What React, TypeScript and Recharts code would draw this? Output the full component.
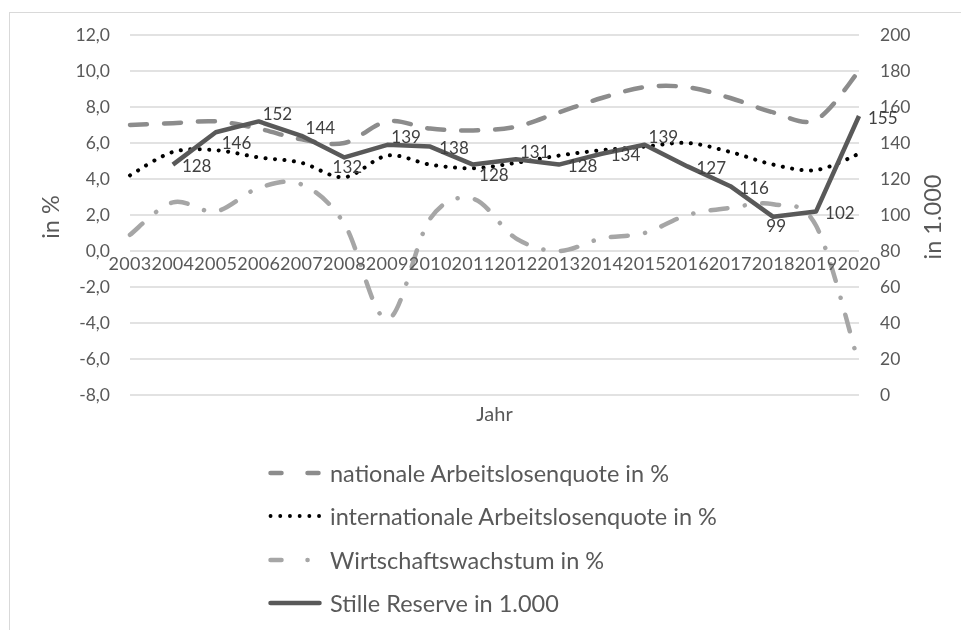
import React from 'react';
import { LineChart, Line, XAxis, YAxis, CartesianGrid, Legend, LabelList } from 'recharts';

const years = ['2003', '2004', '2005', '2006', '2007', '2008', '2009', '2010', '2011', '2012', '2013', '2014', '2015', '2016', '2017', '2018', '2019', '2020'];
const nationalRate = [7.0, 7.1, 7.2, 6.8, 6.2, 6.0, 7.2, 6.8, 6.7, 6.9, 7.7, 8.5, 9.1, 9.1, 8.5, 7.7, 7.3, 10.0];
const internationalRate = [4.2, 5.5, 5.6, 5.2, 4.9, 4.1, 5.3, 4.8, 4.6, 4.9, 5.3, 5.6, 5.8, 6.0, 5.5, 4.8, 4.5, 5.4];
const growthRate = [0.9, 2.7, 2.2, 3.5, 3.7, 1.5, -3.8, 1.8, 2.9, 0.7, 0.0, 0.7, 1.0, 2.0, 2.4, 2.6, 1.4, -6.3];
const silentReserve = [null, 128, 146, 152, 144, 132, 139, 138, 128, 131, 128, 134, 139, 127, 116, 99, 102, 155];
const leftTicks = [-8, -6, -4, -2, 0, 2, 4, 6, 8, 10, 12];
const rightTicks = [0, 20, 40, 60, 80, 100, 120, 140, 160, 180, 200];

const data = years.map((year, i) => ({
  year,
  national: nationalRate[i],
  international: internationalRate[i],
  growth: growthRate[i],
  reserve: silentReserve[i],
}));

const FONT = 'Lato, "Open Sans", sans-serif';
const TEXT = '#595959';
const CHART_W = 945;
const CHART_H = 612;
const PLOT_TOP = 27;
const PLOT_H = 360;
const LEFT_MIN = -8;
const LEFT_MAX = 12;
const zeroY = PLOT_TOP + (PLOT_H * (LEFT_MAX - 0)) / (LEFT_MAX - LEFT_MIN);

// Label placement style per year (Excel data label nudges)
const labelPlacement: Record<string, string> = {
  '2005': 'belowRight',
  '2011': 'belowRight',
  '2006': 'aboveRight',
  '2007': 'aboveRight',
  '2009': 'aboveRight',
  '2012': 'aboveRight',
  '2015': 'aboveRight',
  '2008': 'below',
  '2018': 'below',
};

// Excel-like smoothed line (Catmull-Rom bezier)
const excelSmooth = (context: any) => {
  let pts: number[][] = [];
  return {
    areaStart() {},
    areaEnd() {},
    lineStart() {
      pts = [];
    },
    point(x: number, y: number) {
      pts.push([+x, +y]);
    },
    lineEnd() {
      const n = pts.length;
      if (!n) return;
      context.moveTo(pts[0][0], pts[0][1]);
      for (let i = 0; i < n - 1; i++) {
        const p0 = pts[i - 1] || pts[i];
        const p1 = pts[i];
        const p2 = pts[i + 1];
        const p3 = pts[i + 2] || p2;
        context.bezierCurveTo(
          p1[0] + (p2[0] - p0[0]) / 6,
          p1[1] + (p2[1] - p0[1]) / 6,
          p2[0] - (p3[0] - p1[0]) / 6,
          p2[1] - (p3[1] - p1[1]) / 6,
          p2[0],
          p2[1]
        );
      }
    },
  };
};

const legendItems = [
  { label: 'nationale Arbeitslosenquote in %', color: '#8c8c8c', dash: '11 26', width: 4.5 },
  { label: 'internationale Arbeitslosenquote in %', color: '#000000', dash: '0.1 9.6', width: 3.8 },
  { label: 'Wirtschaftswachstum in %', color: '#a6a6a6', dash: '11 26 0.1 60', width: 4.5 },
  { label: 'Stille Reserve in 1.000', color: '#595959', dash: undefined, width: 4.5 },
];

const LegendContent = () => (
  <div style={{ fontFamily: FONT, fontSize: 23.5, color: TEXT }}>
    {legendItems.map((it) => (
      <div key={it.label} style={{ height: 43.5, display: 'flex', alignItems: 'center', whiteSpace: 'nowrap' }}>
        <svg width={62} height={10} style={{ flex: 'none' }}>
          <line
            x1={2.5}
            x2={51.5}
            y1={5}
            y2={5}
            stroke={it.color}
            strokeWidth={it.width}
            strokeDasharray={it.dash}
            strokeLinecap="round"
          />
        </svg>
        <span>{it.label}</span>
      </div>
    ))}
  </div>
);

const YearTick = (props: any) => {
  const { x, payload } = props;
  return (
    <text x={x} y={zeroY + 12} textAnchor="middle" dominantBaseline="central" fill={TEXT} fontSize={18} fontFamily={FONT} letterSpacing={0.3}>
      {payload.value}
    </text>
  );
};

const ReserveLabel = (props: any) => {
  const { x, y, value, index } = props;
  if (value === null || value === undefined) return null;
  const place = labelPlacement[years[index]] || 'right';
  let dx = 9;
  let dy = 1;
  let anchor = 'start';
  if (place === 'aboveRight') {
    dx = 4;
    dy = -8;
  } else if (place === 'belowRight') {
    dx = 6;
    dy = 10;
  } else if (place === 'below') {
    dx = 3;
    dy = 9;
    anchor = 'middle';
  }
  return (
    <text x={x + dx} y={y + dy} textAnchor={anchor} dominantBaseline="central" fill="#404040" fontSize={17} fontFamily={FONT}>
      {value}
    </text>
  );
};

const LeftTitle = (props: any) => {
  const vb = props.viewBox || {};
  const cx = vb.x + 42;
  const cy = vb.y + vb.height / 2 + 2;
  return (
    <text x={cx} y={cy} transform={`rotate(-90 ${cx} ${cy})`} textAnchor="middle" dominantBaseline="central" fill={TEXT} fontSize={23.5} fontFamily={FONT}>
      in %
    </text>
  );
};

const RightTitle = (props: any) => {
  const vb = props.viewBox || {};
  const cx = vb.x + 73;
  const cy = vb.y + vb.height / 2 + 2;
  return (
    <text x={cx} y={cy} transform={`rotate(-90 ${cx} ${cy})`} textAnchor="middle" dominantBaseline="central" fill={TEXT} fontSize={23.5} fontFamily={FONT}>
      in 1.000
    </text>
  );
};

const XTitle = (props: any) => {
  const vb = props.viewBox || {};
  return (
    <text x={vb.x + vb.width / 2} y={vb.y + 18} textAnchor="middle" dominantBaseline="central" fill={TEXT} fontSize={20} fontFamily={FONT}>
      Jahr
    </text>
  );
};

export default function App() {
  return (
    <div style={{ position: 'relative', width: CHART_W, height: CHART_H }}>
      <div
        style={{
          position: 'fixed',
          left: 9,
          top: 12,
          width: 1200,
          height: 900,
          borderLeft: '1.5px solid #d9d9d9',
          borderTop: '1.5px solid #d9d9d9',
          pointerEvents: 'none',
        }}
      />
      <LineChart width={CHART_W} height={CHART_H} data={data} margin={{ top: PLOT_TOP, right: 0, bottom: 169, left: 0 }}>
        <CartesianGrid yAxisId="left" vertical={false} stroke="#d9d9d9" strokeWidth={1.3} />
        <XAxis
          dataKey="year"
          interval={0}
          axisLine={false}
          tickLine={false}
          height={56}
          tick={<YearTick />}
          label={<XTitle />}
        />
        <YAxis
          yAxisId="left"
          domain={[LEFT_MIN, LEFT_MAX]}
          ticks={leftTicks}
          width={122}
          axisLine={false}
          tickLine={false}
          tickMargin={14}
          tick={{ fill: TEXT, fontSize: 17.5, fontFamily: FONT }}
          tickFormatter={(v: number) => v.toFixed(1).replace('.', ',')}
          label={<LeftTitle />}
        />
        <YAxis
          yAxisId="right"
          orientation="right"
          domain={[0, 200]}
          ticks={rightTicks}
          width={94}
          axisLine={false}
          tickLine={false}
          tickMargin={15}
          tick={{ fill: TEXT, fontSize: 17.5, fontFamily: FONT }}
          label={<RightTitle />}
        />
        <Legend verticalAlign="middle" align="center" wrapperStyle={{ top: 443, left: 260, width: 600 }} content={<LegendContent />} />
        <Line
          yAxisId="left"
          dataKey="national"
          type={excelSmooth as any}
          stroke="#8c8c8c"
          strokeWidth={4.5}
          strokeDasharray="17 17"
          strokeLinecap="round"
          dot={false}
          activeDot={false}
          isAnimationActive={false}
        />
        <Line
          yAxisId="left"
          dataKey="international"
          type={excelSmooth as any}
          stroke="#000000"
          strokeWidth={4}
          strokeDasharray="0.1 9.4"
          strokeLinecap="round"
          dot={false}
          activeDot={false}
          isAnimationActive={false}
        />
        <Line
          yAxisId="left"
          dataKey="growth"
          type={excelSmooth as any}
          stroke="#a6a6a6"
          strokeWidth={4.5}
          strokeDasharray="17 17.5 0.1 17.5"
          strokeLinecap="round"
          dot={false}
          activeDot={false}
          isAnimationActive={false}
        />
        <Line
          yAxisId="right"
          dataKey="reserve"
          type="linear"
          stroke="#595959"
          strokeWidth={4.5}
          strokeLinejoin="round"
          dot={false}
          activeDot={false}
          isAnimationActive={false}
        >
          <LabelList dataKey="reserve" content={<ReserveLabel />} />
        </Line>
      </LineChart>
    </div>
  );
}
